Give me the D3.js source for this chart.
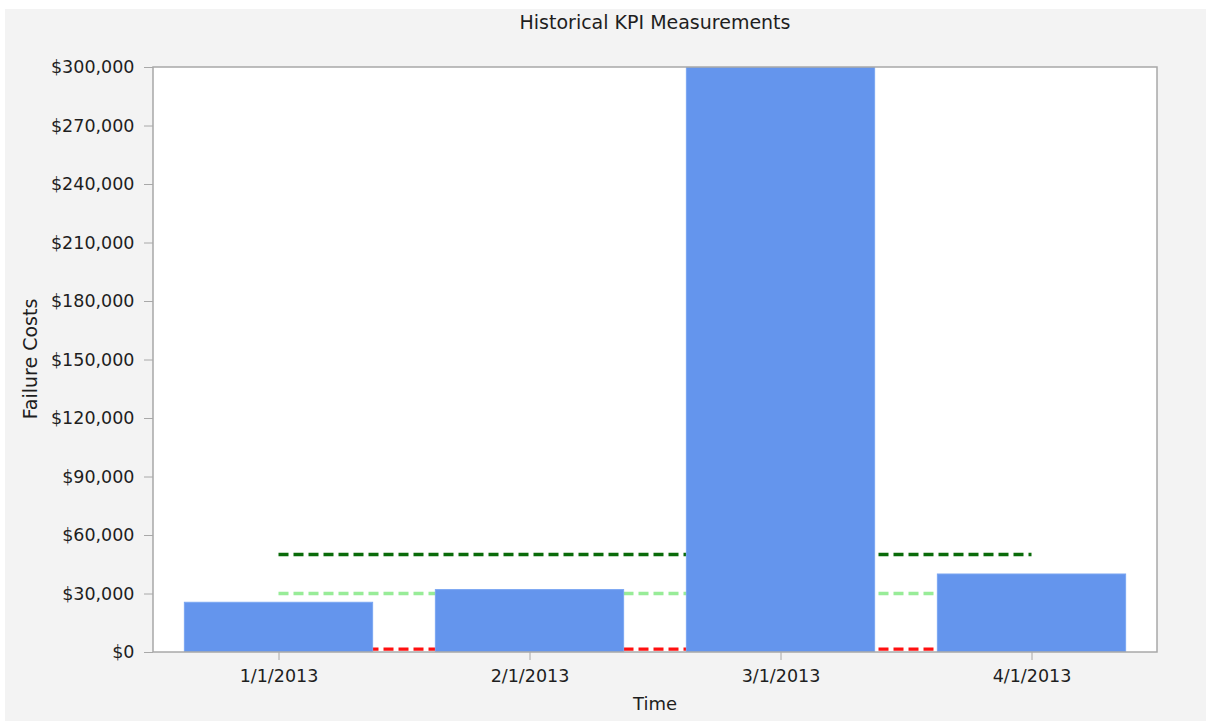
<!DOCTYPE html>
<html>
<head>
<meta charset="utf-8">
<script src="https://cdn.jsdelivr.net/npm/d3@7"></script>
<style>
  html, body { margin: 0; padding: 0; background: #ffffff; }
  svg { display: block; }
  text { font-family: "DejaVu Sans", Verdana, sans-serif; fill: #1e1e1e; }
</style>
</head>
<body>
<svg id="chart" width="1206" height="721"></svg>
<script>
// KPI history: monthly failure costs with threshold lines
const categories = ["1/1/2013", "2/1/2013", "3/1/2013", "4/1/2013"];
const failureCosts = [25500, 32000, 300000, 40000];
const upperTarget = [50000, 50000, 50000, 50000];
const lowerTarget = [30000, 30000, 30000, 30000];
const minimumLevel = [1500, 1500, 1500, 1500];
const yTicks = [0, 30000, 60000, 90000, 120000, 150000, 180000, 210000, 240000, 270000, 300000];

const svg = d3.select("#chart");
const W = 1206, H = 721;
const plot = { left: 153, top: 67, right: 1157, bottom: 652 };

// panel background
svg.append("rect").attr("x", 5).attr("y", 9).attr("width", W - 5).attr("height", H - 9)
  .attr("fill", "#f3f3f3");

// plot area
svg.append("rect").attr("x", plot.left).attr("y", plot.top)
  .attr("width", plot.right - plot.left).attr("height", plot.bottom - plot.top)
  .attr("fill", "#ffffff");

const x = d3.scaleBand().domain(categories).range([plot.left, plot.right]).paddingInner(0.25).paddingOuter(0.125);
const xc = d3.scalePoint().domain(categories).range([plot.left, plot.right]).padding(0.5);
const y = d3.scaleLinear().domain([0, 300000]).range([plot.bottom, plot.top]);

svg.append("clipPath").attr("id", "plotclip").append("rect")
  .attr("x", plot.left).attr("y", plot.top)
  .attr("width", plot.right - plot.left).attr("height", plot.bottom - plot.top);

const g = svg.append("g").attr("clip-path", "url(#plotclip)");

// threshold lines (behind bars)
const lineGen = d3.line().x((d, i) => xc(categories[i])).y(d => y(d));
const thresholds = [
  { values: upperTarget, color: "#0a6b0a" },
  { values: lowerTarget, color: "#98ec98" },
  { values: minimumLevel, color: "#ff1010" }
];
thresholds.forEach(t => {
  g.append("path").datum(t.values).attr("d", lineGen)
    .attr("fill", "none").attr("stroke", t.color)
    .attr("stroke-width", 3.3).attr("stroke-dasharray", "10,5");
});

// bars
g.selectAll("rect.bar").data(failureCosts).join("rect")
  .attr("class", "bar")
  .attr("x", (d, i) => x(categories[i]))
  .attr("y", d => y(d))
  .attr("width", x.bandwidth())
  .attr("height", d => y(0) - y(d))
  .attr("fill", "#6495ed")
  .attr("stroke", "#7aa6f2").attr("stroke-width", 1);

// frame
svg.append("rect").attr("x", plot.left).attr("y", plot.top)
  .attr("width", plot.right - plot.left).attr("height", plot.bottom - plot.top)
  .attr("fill", "none").attr("stroke", "#a8a8a8").attr("stroke-width", 1.5);

// y axis
const yAxis = d3.axisLeft(y).tickValues(yTicks).tickSize(9).tickPadding(9.5)
  .tickFormat(d => "$" + d3.format(",")(d));
const gy = svg.append("g").attr("transform", `translate(${plot.left},0)`).call(yAxis);
gy.select(".domain").remove();
gy.selectAll(".tick line").attr("stroke", "#a8a8a8");
gy.selectAll(".tick text").style("font-size", "17.5px").attr("fill", "#1e1e1e");

// x axis
const xAxis = d3.axisBottom(xc).tickSize(8).tickPadding(10);
const gx = svg.append("g").attr("transform", `translate(0,${plot.bottom})`).call(xAxis);
gx.select(".domain").remove();
gx.selectAll(".tick line").attr("stroke", "#a8a8a8");
gx.selectAll(".tick text").style("font-size", "17.5px").attr("fill", "#1e1e1e");

// titles
svg.append("text").attr("x", 655).attr("y", 29).attr("text-anchor", "middle")
  .style("font-size", "19px").text("Historical KPI Measurements");
svg.append("text").attr("x", 655).attr("y", 710).attr("text-anchor", "middle")
  .style("font-size", "18px").text("Time");
svg.append("text").attr("transform", "translate(37,359) rotate(-90)").attr("text-anchor", "middle")
  .style("font-size", "19px").text("Failure Costs");
</script>
</body>
</html>
